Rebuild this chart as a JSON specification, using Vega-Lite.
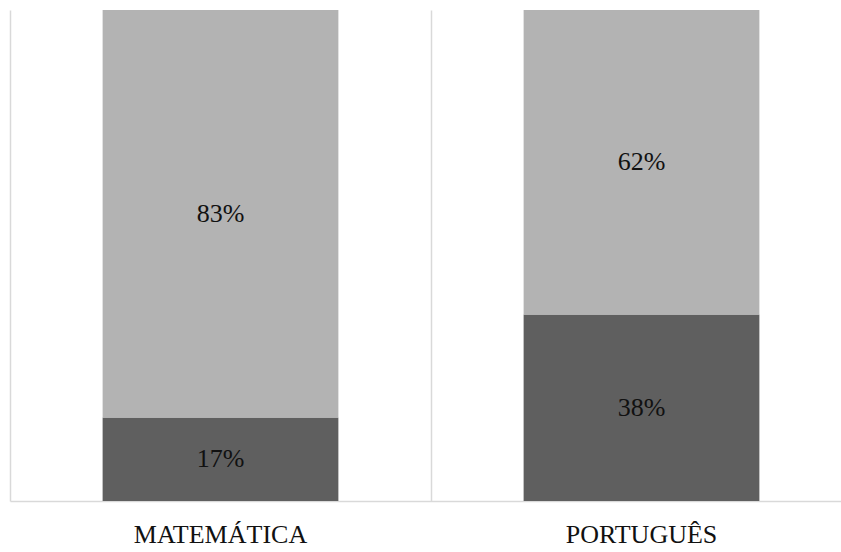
{
  "$schema": "https://vega.github.io/schema/vega-lite/v6.json",
  "autosize": "none",
  "width": 842,
  "height": 491,
  "padding": {"left": 10, "top": 10, "right": 0, "bottom": 51},
  "background": "white",
  "config": {
    "view": {"stroke": null},
    "font": "Liberation Serif"
  },
  "data": {
    "values": [
      {"disciplina": "MATEMÁTICA", "grupo": "Grupo 1", "valor": 0.17},
      {"disciplina": "MATEMÁTICA", "grupo": "Grupo 2", "valor": 0.83},
      {"disciplina": "PORTUGUÊS", "grupo": "Grupo 1", "valor": 0.38},
      {"disciplina": "PORTUGUÊS", "grupo": "Grupo 2", "valor": 0.62}
    ]
  },
  "encoding": {
    "x": {
      "field": "disciplina",
      "type": "nominal",
      "sort": null,
      "scale": {"paddingInner": 0, "paddingOuter": 0},
      "axis": {
        "title": null,
        "labelAngle": 0,
        "labelFont": "Liberation Serif",
        "labelFontSize": 26,
        "labelColor": "#111111",
        "labelBaseline": "alphabetic",
        "labelPadding": 41,
        "labelBound": false,
        "labelOverlap": false,
        "ticks": false,
        "grid": true,
        "bandPosition": 0,
        "gridColor": "#d9d9d9",
        "gridWidth": 1.5,
        "domainColor": "#d9d9d9",
        "domainWidth": 1.5
      }
    }
  },
  "layer": [
    {
      "mark": {"type": "bar", "width": {"band": 0.56}},
      "encoding": {
        "y": {
          "field": "valor",
          "type": "quantitative",
          "stack": "zero",
          "scale": {"domain": [0, 1], "nice": false},
          "axis": null
        },
        "color": {
          "field": "grupo",
          "type": "nominal",
          "scale": {"domain": ["Grupo 1", "Grupo 2"], "range": ["#5f5f5f", "#b3b3b3"]},
          "legend": null
        },
        "order": {"field": "grupo"}
      }
    },
    {
      "mark": {
        "type": "text",
        "font": "Liberation Serif",
        "fontSize": 26,
        "color": "#111111",
        "baseline": "middle",
        "align": "center"
      },
      "encoding": {
        "y": {
          "field": "valor",
          "type": "quantitative",
          "stack": "zero",
          "bandPosition": 0.5
        },
        "detail": {"field": "grupo"},
        "order": {"field": "grupo"},
        "text": {"field": "valor", "type": "quantitative", "format": ".0%"}
      }
    }
  ]
}
